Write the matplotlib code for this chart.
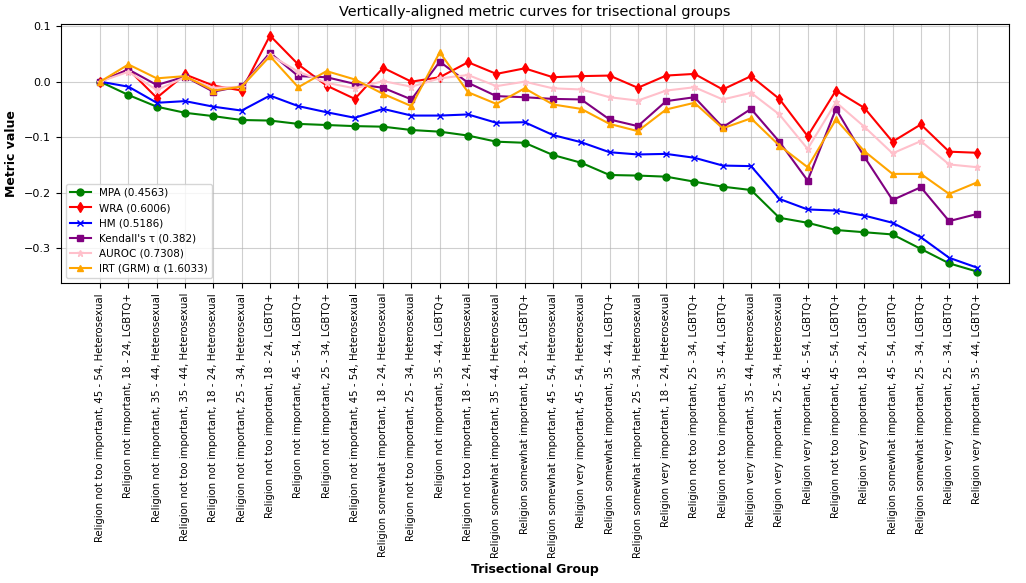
import numpy as np
import matplotlib
matplotlib.use("Agg")
from matplotlib import pyplot as plt

groups = [
    "Religion not too important, 45 - 54, Heterosexual",
    "Religion not important, 18 - 24, LGBTQ+",
    "Religion not important, 35 - 44, Heterosexual",
    "Religion not too important, 35 - 44, Heterosexual",
    "Religion not important, 18 - 24, Heterosexual",
    "Religion not important, 25 - 34, Heterosexual",
    "Religion not too important, 18 - 24, LGBTQ+",
    "Religion not important, 45 - 54, LGBTQ+",
    "Religion not important, 25 - 34, LGBTQ+",
    "Religion not important, 45 - 54, Heterosexual",
    "Religion somewhat important, 18 - 24, Heterosexual",
    "Religion not too important, 25 - 34, Heterosexual",
    "Religion not important, 35 - 44, LGBTQ+",
    "Religion not too important, 18 - 24, Heterosexual",
    "Religion somewhat important, 35 - 44, Heterosexual",
    "Religion somewhat important, 18 - 24, LGBTQ+",
    "Religion somewhat important, 45 - 54, Heterosexual",
    "Religion very important, 45 - 54, Heterosexual",
    "Religion somewhat important, 35 - 44, LGBTQ+",
    "Religion somewhat important, 25 - 34, Heterosexual",
    "Religion very important, 18 - 24, Heterosexual",
    "Religion not too important, 25 - 34, LGBTQ+",
    "Religion not too important, 35 - 44, LGBTQ+",
    "Religion very important, 35 - 44, Heterosexual",
    "Religion very important, 25 - 34, Heterosexual",
    "Religion very important, 45 - 54, LGBTQ+",
    "Religion not too important, 45 - 54, LGBTQ+",
    "Religion very important, 18 - 24, LGBTQ+",
    "Religion somewhat important, 45 - 54, LGBTQ+",
    "Religion somewhat important, 25 - 34, LGBTQ+",
    "Religion very important, 25 - 34, LGBTQ+",
    "Religion very important, 35 - 44, LGBTQ+",
]

mpa = [0.0, -0.024, -0.045, -0.056, -0.062, -0.069, -0.070, -0.076, -0.078, -0.080,
       -0.081, -0.087, -0.090, -0.097, -0.108, -0.110, -0.132, -0.146, -0.168, -0.169,
       -0.171, -0.180, -0.189, -0.195, -0.245, -0.254, -0.267, -0.271, -0.275, -0.301,
       -0.327, -0.342]
wra = [0.0, 0.022, -0.029, 0.013, -0.007, -0.016, 0.083, 0.031, -0.007, -0.031,
       0.025, 0.0, 0.008, 0.035, 0.014, 0.024, 0.008, 0.010, 0.011, -0.011,
       0.011, 0.014, -0.014, 0.010, -0.031, -0.098, -0.016, -0.047, -0.108, -0.077,
       -0.126, -0.128]
hm = [0.0, -0.009, -0.038, -0.035, -0.045, -0.052, -0.025, -0.044, -0.055, -0.065,
      -0.049, -0.061, -0.061, -0.059, -0.074, -0.073, -0.096, -0.109, -0.127, -0.131,
      -0.130, -0.137, -0.151, -0.152, -0.211, -0.230, -0.232, -0.241, -0.254, -0.280,
      -0.317, -0.335]
kendall = [0.0, 0.022, -0.006, 0.009, -0.018, -0.008, 0.052, 0.010, 0.008, -0.004,
           -0.011, -0.032, 0.036, -0.002, -0.026, -0.028, -0.031, -0.032, -0.068, -0.080,
           -0.035, -0.028, -0.082, -0.049, -0.108, -0.178, -0.049, -0.135, -0.213, -0.190,
           -0.251, -0.238]
auroc = [0.0, 0.018, -0.015, 0.008, -0.011, -0.009, 0.048, 0.018, -0.002, -0.012,
         0.001, -0.009, 0.006, 0.012, -0.008, 0.0, -0.012, -0.014, -0.028, -0.034,
         -0.016, -0.010, -0.032, -0.020, -0.059, -0.121, -0.037, -0.081, -0.129, -0.107,
         -0.149, -0.154]
irt = [0.0, 0.031, 0.006, 0.010, -0.016, -0.009, 0.046, -0.010, 0.019, 0.004,
       -0.022, -0.044, 0.053, -0.019, -0.040, -0.012, -0.041, -0.049, -0.076, -0.089,
       -0.050, -0.038, -0.084, -0.066, -0.115, -0.154, -0.068, -0.125, -0.166, -0.166,
       -0.202, -0.181]

series = [
    ("MPA (0.4563)", mpa, "green", "o"),
    ("WRA (0.6006)", wra, "red", "d"),
    ("HM (0.5186)", hm, "blue", "x"),
    ("Kendall's τ (0.382)", kendall, "purple", "s"),
    ("AUROC (0.7308)", auroc, "pink", "*"),
    ("IRT (GRM) α (1.6033)", irt, "orange", "^"),
]

fig, ax = plt.subplots(figsize=(10.26, 5.83), dpi=100)
x = np.arange(len(groups))
for label, vals, color, marker in series:
    ax.plot(x, vals, color=color, marker=marker, markersize=5, linewidth=1.5, label=label)

ax.set_xticks(x)
ax.set_xticklabels(groups, rotation=90, fontsize=7.3)
ax.tick_params(axis="y", labelsize=8)
ax.set_xlim(-1.4, 32.1)
ax.set_ylim(-0.363, 0.104)
ax.set_yticks([-0.3, -0.2, -0.1, 0.0, 0.1])
ax.grid(True, alpha=0.6)
ax.set_title("Vertically-aligned metric curves for trisectional groups", fontsize=10.4)
ax.set_xlabel("Trisectional Group", fontweight="bold", fontsize=9)
ax.set_ylabel("Metric value", fontweight="bold", fontsize=9)
ax.legend(loc="lower left", fontsize=7.5)

fig.subplots_adjust(left=0.059, right=0.983, top=0.959, bottom=0.514)
fig.savefig("out.png")
plt.close(fig)
